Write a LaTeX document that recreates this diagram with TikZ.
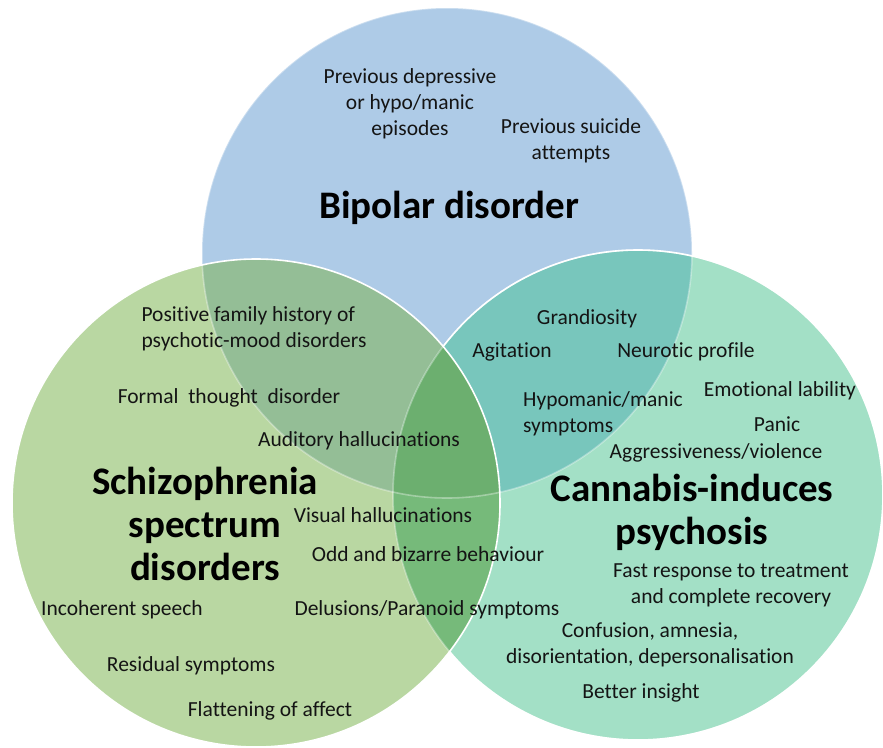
\documentclass[tikz,border=0pt]{standalone}
\usepackage{fontspec}
\setmainfont{Carlito}[Ligatures=CommonOff]
\definecolor{bipcol}{RGB}{174,203,231}
\definecolor{schcol}{RGB}{185,215,162}
\definecolor{cancol}{RGB}{163,224,198}
\definecolor{bscol}{RGB}{148,190,150}
\definecolor{bccol}{RGB}{120,198,188}
\definecolor{sccol}{RGB}{118,186,122}
\definecolor{allcol}{RGB}{108,175,111}
\definecolor{txtcol}{RGB}{20,20,20}
\usetikzlibrary{positioning}

\begin{document}
\begin{tikzpicture}[x=1pt,y=-1pt,
        lbl/.style={align=center,inner sep=0pt,text=txtcol,
                    font=\fontsize{21.5}{26}\selectfont},
        big/.style={align=center,inner sep=0pt,text=black,
                    font=\fontsize{39}{43}\selectfont\bfseries},
        rim/.style={draw=white,line width=1.6pt}]
    \useasboundingbox (0,0) rectangle (883,747);
    \coordinate (bip) at (447,253);
    \coordinate (sch) at (256,503);
    \coordinate (can) at (638,495);
    \def\rbip{245pt}\def\rsch{244pt}\def\rcan{245pt}

    % the three sets
    \fill[bipcol] (bip) circle[radius=\rbip];
    \fill[cancol] (can) circle[radius=\rcan];
    \fill[schcol] (sch) circle[radius=\rsch];
    \begin{scope}
      \clip (bip) circle[radius=\rbip];
      \fill[bscol] (sch) circle[radius=\rsch];
      \fill[bccol] (can) circle[radius=\rcan];
    \end{scope}
    \begin{scope}
      \clip (sch) circle[radius=\rsch];
      \fill[sccol] (can) circle[radius=\rcan];
      \clip (bip) circle[radius=\rbip];
      \fill[allcol] (can) circle[radius=\rcan];
    \end{scope}

    % outlines
    \draw[rim,draw opacity=0.35] (bip) circle[radius=\rbip];
    \draw[rim,draw opacity=0.35] (can) circle[radius=\rcan];
    \begin{scope}[even odd rule]
      \clip (0,0) rectangle (883,747) (sch) circle[radius=\rsch];
      \draw[rim] (can) circle[radius=\rcan];
    \end{scope}
    \draw[rim] (sch) circle[radius=\rsch];

    % bipolar disorder
    \node[lbl] (prevdep) at (410,104) {Previous depressive\\or hypo/manic\\episodes};
    \node[lbl] (prevsui) at (571,141) {Previous suicide\\attempts};
    \node[big] (bipolar) at (449,208) {Bipolar disorder};

    % schizophrenia spectrum
    \node[lbl,align=left] (famhist) at (254,329) {Positive family history of\\psychotic-mood disorders};
    \node[lbl] (formal) at (229,398) {Formal~ thought~ disorder};
    \node[lbl] (auditory) at (359,441) {Auditory hallucinations};
    \node[big] (schizo) at (205,524) {Schizophrenia\\spectrum\\disorders};
    \node[lbl] (visual) at (383,515) {Visual hallucinations};
    \node[lbl] (odd) at (428,554) {Odd and bizarre behaviour};
    \node[lbl] (incoh) at (122,610) {Incoherent speech};
    \node[lbl] (delus) at (427,610) {Delusions/Paranoid symptoms};
    \node[lbl] (resid) at (191,666) {Residual symptoms};
    \node[lbl] (flatten) at (270,711) {Flattening of affect};

    % cannabis-induced psychosis
    \node[lbl] (grand) at (587,319) {Grandiosity};
    \node[lbl] (agit) at (512,352) {Agitation};
    \node[lbl] (neuro) at (686,352) {Neurotic profile};
    \node[lbl] (emolab) at (780,391) {Emotional lability};
    \node[lbl,align=left] (hypo) at (603,414) {Hypomanic/manic\\symptoms};
    \node[lbl] (panic) at (777,424) {Panic};
    \node[lbl] (aggr) at (716,453) {Aggressiveness/violence};
    \node[big] (cannabis) at (692,512) {Cannabis-induces\\psychosis};
    \node[lbl] (fastresp) at (731,585) {Fast response to treatment\\and complete recovery};
    \node[lbl] (confus) at (650,645) {Confusion, amnesia,\\disorientation, depersonalisation};
    \node[lbl] (insight) at (641,693) {Better insight};
\end{tikzpicture}
\end{document}
